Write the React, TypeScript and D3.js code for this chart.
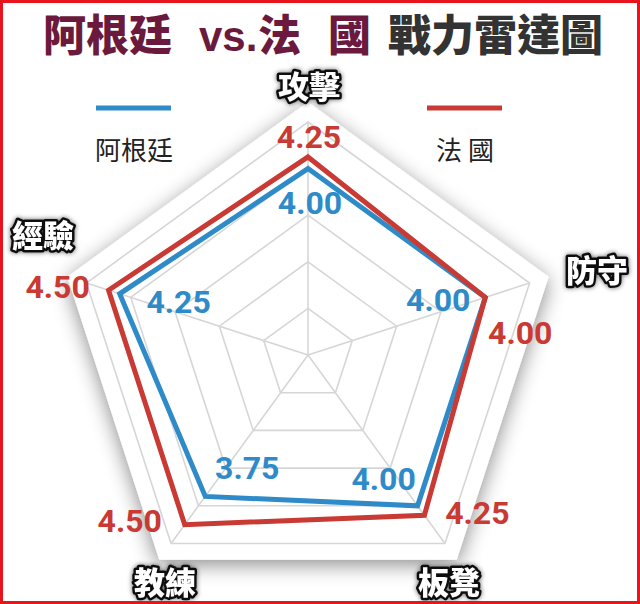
import * as d3 from "d3";

const axes = ["攻擊", "防守", "板凳", "教練", "經驗"];
const argentina = [4.0, 4.0, 4.0, 3.75, 4.25];
const france = [4.25, 4.0, 4.25, 4.5, 4.5];
const rings = [1, 2, 3, 4, 5];

const W = 640;
const H = 604;
const cx = 308;
const cy = 355;
const BLUE = "#2f8bc8";
const RED = "#c83a33";
const CJK = "'Noto Sans CJK TC', 'Noto Sans CJK SC', sans-serif";
const NUM = "Roboto, 'Liberation Sans', sans-serif";

const r = d3.scaleLinear().domain([0, 5]).range([0, 233]);
const angle = d3.scaleLinear().domain([0, axes.length]).range([-Math.PI / 2, Math.PI * 1.5]);
const pt = (i: number, rad: number): [number, number] => [
  cx + rad * Math.cos(angle(i)),
  cy + rad * Math.sin(angle(i)),
];
const poly = (vals: number[]) =>
  d3.line<number>()
    .x((v, i) => pt(i, r(v))[0])
    .y((v, i) => pt(i, r(v))[1])
    .curve(d3.curveLinearClosed)(vals) as string;

// label nudges relative to vertex (layout only)
const redNudge: [number, number][] = [[1, -20], [35, 36], [53, -2], [-55, -4], [-51, -3]];
const blueNudge: [number, number][] = [[2, 34], [-47, 3], [-34, -27], [42, -28], [59, 8]];
const catPos: [number, number][] = [[309, 84], [597, 268], [449, 580], [165, 580], [43, 233]];

export default function App() {
  const outer = axes.map((_, i) => pt(i, 253));
  return (
    <svg width={W} height={H} viewBox={`0 0 ${W} ${H}`} style={{ position: "absolute", left: 0, top: 0, background: "#fff" }}>
      <defs>
        <filter id="sh" x="-20%" y="-20%" width="140%" height="140%">
          <feDropShadow dx="0" dy="5" stdDeviation="10" floodColor="#000" floodOpacity="0.45" />
        </filter>
        <filter id="glow" x="-30%" y="-30%" width="160%" height="160%">
          <feDropShadow dx="0" dy="0" stdDeviation="2.5" floodColor="#000" floodOpacity="0.6" />
        </filter>
      </defs>
      <rect x={0} y={0} width={W} height={H} fill="#fff" />

      {/* title */}
      <g fontFamily={CJK} fontWeight={900} fontSize={43} fill="#6b1a3d">
        <text x={43} y={51}>阿根廷</text>
        <text x={199} y={51} fontFamily="'Liberation Sans', Arial, sans-serif" fontWeight={700} fontSize={42}>vs.</text>
        <text x={258} y={51}>法</text>
        <text x={328} y={51}>國</text>
        <text x={388} y={51} fill="#333">戰力雷達圖</text>
      </g>

      {/* legend */}
      <line x1={96} x2={171} y1={108} y2={108} stroke={BLUE} strokeWidth={5} />
      <text x={134} y={160} textAnchor="middle" fontFamily={CJK} fontSize={26} fill="#222">阿根廷</text>
      <line x1={427} x2={502} y1={108} y2={108} stroke={RED} strokeWidth={5} />
      <text x={465} y={160} textAnchor="middle" fontFamily={CJK} fontSize={26} fill="#222">法 國</text>

      {/* backdrop */}
      <polygon points={outer.map((p) => p.join(",")).join(" ")} fill="#fff" filter="url(#sh)" />

      {/* grid */}
      {rings.map((t) => (
        <polygon key={t} points={axes.map((_, i) => pt(i, r(t)).join(",")).join(" ")} fill="none" stroke="#d6d6d6" strokeWidth={1.6} />
      ))}
      {axes.map((_, i) => {
        const [x, y] = pt(i, r(5));
        return <line key={i} x1={cx} y1={cy} x2={x} y2={y} stroke="#d6d6d6" strokeWidth={1.6} />;
      })}

      {/* series */}
      <path d={poly(argentina)} fill="none" stroke={BLUE} strokeWidth={5} strokeLinejoin="miter" />
      <path d={poly(france)} fill="none" stroke={RED} strokeWidth={5} strokeLinejoin="miter" />

      {/* value labels */}
      {france.map((v, i) => {
        const [x, y] = pt(i, r(v));
        return (
          <text key={"f" + i} x={x + redNudge[i][0]} y={y + redNudge[i][1]} textAnchor="middle" dominantBaseline="central"
            fontFamily={NUM} fontWeight={700} fontSize={32} fill={RED}>{v.toFixed(2)}</text>
        );
      })}
      {argentina.map((v, i) => {
        const [x, y] = pt(i, r(v));
        return (
          <text key={"a" + i} x={x + blueNudge[i][0]} y={y + blueNudge[i][1]} textAnchor="middle" dominantBaseline="central"
            fontFamily={NUM} fontWeight={700} fontSize={32} fill={BLUE}>{v.toFixed(2)}</text>
        );
      })}

      {/* axis labels */}
      {axes.map((a, i) => (
        <text key={a} x={catPos[i][0]} y={catPos[i][1]} textAnchor="middle" dominantBaseline="central"
          fontFamily={CJK} fontWeight={900} fontSize={31} fill="#fff" stroke="#111" strokeWidth={5}
          strokeLinejoin="round" paintOrder="stroke" filter="url(#glow)">{a}</text>
      ))}

      {/* frame */}
      <rect x={1.5} y={1.5} width={W - 3} height={H - 3} fill="none" stroke="#e8141b" strokeWidth={3} />
    </svg>
  );
}
